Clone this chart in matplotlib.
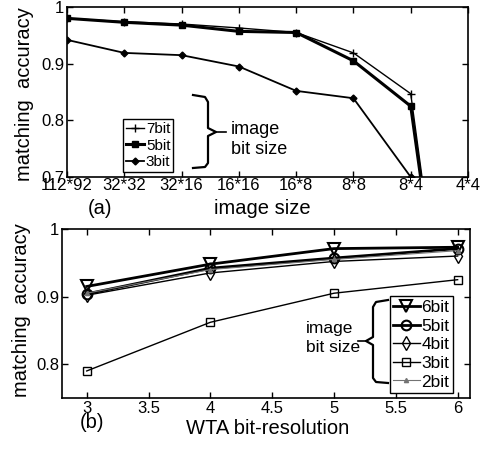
import matplotlib.pyplot as plt
from matplotlib.lines import Line2D

# (a) accuracy vs image size
sizes = ['112*92', '32*32', '32*16', '16*16', '16*8', '8*8', '8*4', '4*4']
acc_7bit = [0.980, 0.974, 0.970, 0.963, 0.955, 0.919, 0.847, 0.10]
acc_5bit = [0.980, 0.973, 0.968, 0.957, 0.955, 0.905, 0.825, 0.10]
acc_3bit = [0.942, 0.919, 0.915, 0.895, 0.852, 0.839, 0.700, 0.10]

# (b) accuracy vs WTA bit-resolution
wta_bits = [3, 4, 5, 6]
b_6bit = [0.915, 0.948, 0.971, 0.973]
b_5bit = [0.904, 0.942, 0.957, 0.971]
b_4bit = [0.902, 0.935, 0.952, 0.960]
b_3bit = [0.790, 0.862, 0.905, 0.925]
b_2bit = [0.905, 0.940, 0.955, 0.968]

plt.rcParams['font.family'] = ['Liberation Sans', 'DejaVu Sans']
W, H = 487, 450
fig = plt.figure(figsize=(W / 100, H / 100), dpi=100)


def px(x, y):
    return x / W, 1 - y / H


def style_ax(ax):
    ax.tick_params(direction='in', top=True, right=True, labelsize=12, length=4, width=1, pad=2)
    for s in ax.spines.values():
        s.set_linewidth(1.2)


# ---------- (a) ----------
ax1 = fig.add_axes([67 / W, 1 - 177 / H, (468 - 67) / W, (177 - 7) / H])
xs = list(range(len(sizes)))
ax1.plot(xs, acc_7bit, 'k-', marker='+', ms=6, lw=1.0, label='7bit')
ax1.plot(xs, acc_5bit, 'k-', marker='s', ms=5, lw=2.2, label='5bit')
ax1.plot(xs, acc_3bit, 'k-', marker='D', ms=3.5, lw=1.3, label='3bit')
ax1.set_xlim(0, 7)
ax1.set_ylim(0.7, 1.0)
ax1.set_xticks(xs)
ax1.set_xticklabels(sizes)
ax1.set_yticks([0.7, 0.8, 0.9, 1.0])
ax1.set_yticklabels(['0.7', '0.8', '0.9', '1'])
style_ax(ax1)
ax1.tick_params(axis='x', pad=1)
ax1.legend(loc='lower left', bbox_to_anchor=px(123, 172), bbox_transform=fig.transFigure,
           borderaxespad=0, fancybox=False, edgecolor='k', framealpha=1, fontsize=11,
           handlelength=1.2, handletextpad=0.1, borderpad=0.2, labelspacing=0.15)

# brace (a)
bx = [193, 205, 208, 208, 216, 208, 208, 205, 193]
by = [95, 97, 102, 128, 132, 136, 163, 167, 168]
fig.add_artist(Line2D([px(x, 0)[0] for x in bx], [px(0, y)[1] for y in by],
                      transform=fig.transFigure, color='k', lw=1.6))
fig.add_artist(Line2D([px(216, 0)[0], px(226, 0)[0]], [px(0, 132)[1]] * 2,
                      transform=fig.transFigure, color='k', lw=1.2))
fig.text(*px(231, 130), 'image', fontsize=13, va='center', ha='left')
fig.text(*px(231, 150), 'bit size', fontsize=13, va='center', ha='left')

fig.text(*px(25, 94), 'matching  accuracy', rotation=90, fontsize=14.5, ha='center', va='center')
fig.text(*px(262, 208), 'image size', fontsize=14.5, ha='center', va='center')
fig.text(*px(100, 208), '(a)', fontsize=14.5, ha='center', va='center')

# ---------- (b) ----------
ax2 = fig.add_axes([62 / W, 1 - 398 / H, (470 - 62) / W, (398 - 229) / H])
ax2.plot(wta_bits, b_6bit, 'k-', marker='v', ms=8, mfc='none', mew=1.5, lw=2.0, label='6bit')
ax2.plot(wta_bits, b_5bit, 'k-', marker='o', ms=7, mfc='none', mew=1.5, lw=2.0, label='5bit')
ax2.plot(wta_bits, b_4bit, 'k-', marker='d', ms=7, mfc='none', mew=1.0, lw=1.0, label='4bit')
ax2.plot(wta_bits, b_3bit, 'k-', marker='s', ms=6, mfc='none', mew=1.0, lw=1.0, label='3bit')
ax2.plot(wta_bits, b_2bit, '-', color='0.45', marker='^', ms=3, lw=0.8, label='2bit')
ax2.set_xlim(2.8, 6.1)
ax2.set_ylim(0.75, 1.0)
ax2.set_xticks([3, 3.5, 4, 4.5, 5, 5.5, 6])
ax2.set_xticklabels(['3', '3.5', '4', '4.5', '5', '5.5', '6'])
ax2.set_yticks([0.8, 0.9, 1.0])
ax2.set_yticklabels(['0.8', '0.9', '1'])
style_ax(ax2)
ax2.legend(loc='lower left', bbox_to_anchor=px(390, 393), bbox_transform=fig.transFigure,
           borderaxespad=0, fancybox=False, edgecolor='k', framealpha=1, fontsize=12.5,
           handlelength=1.5, handletextpad=0.1, borderpad=0.2, labelspacing=0.2)

# brace (b)
cx = [388, 376, 373, 373, 366, 373, 373, 376, 388]
cy = [300, 302, 307, 337, 341, 345, 378, 382, 383]
fig.add_artist(Line2D([px(x, 0)[0] for x in cx], [px(0, y)[1] for y in cy],
                      transform=fig.transFigure, color='k', lw=1.6))
fig.add_artist(Line2D([px(358, 0)[0], px(366, 0)[0]], [px(0, 341)[1]] * 2,
                      transform=fig.transFigure, color='k', lw=1.2))
fig.text(*px(306, 328), 'image', fontsize=12.5, va='center', ha='left')
fig.text(*px(306, 347), 'bit size', fontsize=12.5, va='center', ha='left')

fig.text(*px(22, 310), 'matching  accuracy', rotation=90, fontsize=14.5, ha='center', va='center')
fig.text(*px(268, 429), 'WTA bit-resolution', fontsize=14.5, ha='center', va='center')
fig.text(*px(92, 423), '(b)', fontsize=14.5, ha='center', va='center')

fig.savefig('out.png', dpi=100)
